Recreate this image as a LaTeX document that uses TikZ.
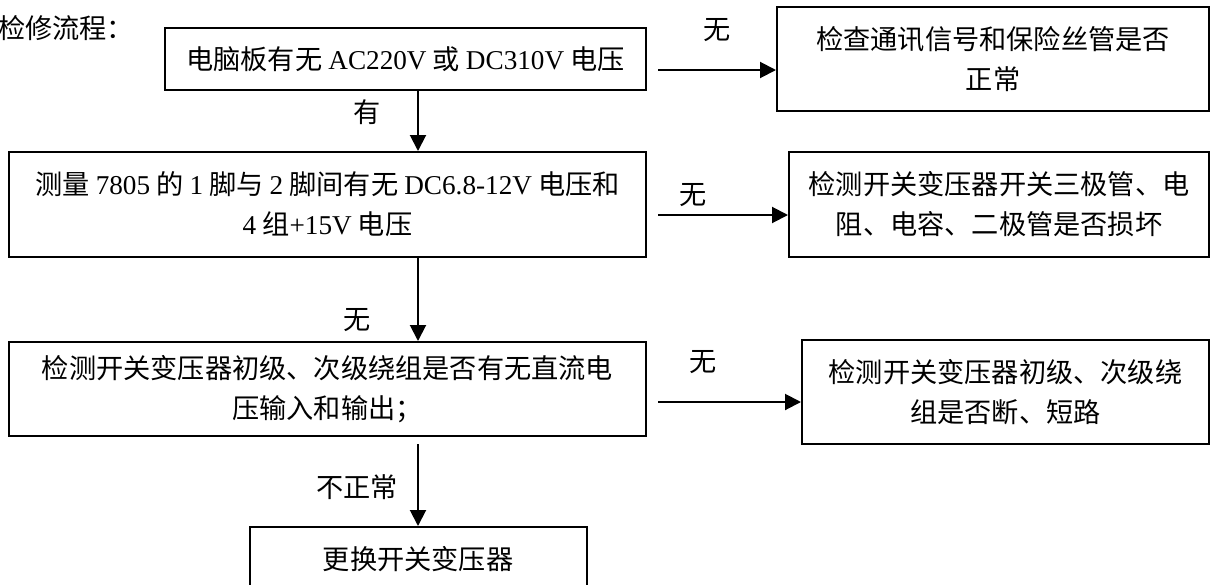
\documentclass[tikz,border=0pt]{standalone}
\usepackage{fontspec}
\usepackage{tikz}
\usetikzlibrary{arrows.meta}
\setmainfont{Noto Sans CJK SC}
\newfontfamily\latfont{Liberation Serif}
\newcommand{\en}[1]{{\latfont #1}}

\begin{document}
\begin{tikzpicture}[x=0.5pt, y=-0.5pt, font=\fontsize{13.6}{20}\selectfont,
                    box/.style 2 args={draw, line width=1pt, align=center, inner sep=0pt,
                                       minimum width=#1*0.5pt, minimum height=#2*0.5pt},
                    arr/.style={line width=1pt, arrows = {-Triangle[length=8pt, width=8pt]}}]
                    \useasboundingbox (0,0) rectangle (1216,584);
%                    title
                    \node[anchor=west] (title) at (-9,28) {检修流程：};

%                    main column
                    \node[box={481}{62}]  (b1) at (405.5,59)  {电脑板有无 \en{AC220V} 或 \en{DC310V} 电压};
                    \node[box={637}{105}] (b2) at (327.5,204.5) {测量 \en{7805} 的 \en{1} 脚与 \en{2} 脚间有无 \en{DC6.8-12V} 电压和\\ \en{4} 组\en{+15V} 电压};
                    \node[box={637}{94}]  (b3) at (327.5,389) {检测开关变压器初级、次级绕组是否有无直流电\\压输入和输出；};
                    \node[box={337}{64}]  (b4) at (418,559)   {更换开关变压器};

%                    right column
                    \node[box={432}{104}] (r1) at (993,59)    {检查通讯信号和保险丝管是否\\正常};
                    \node[box={420}{105}] (r2) at (999,204.5) {检测开关变压器开关三极管、电\\阻、电容、二极管是否损坏};
                    \node[box={407}{104}] (r3) at (1005.5,392) {检测开关变压器初级、次级绕\\组是否断、短路};

%                    down arrows
                    \coordinate (vx) at (418,0);
                    \coordinate (s4) at (418,444);
                    \draw[arr] (b1.south -| vx) -- (b2.north -| vx);
                    \draw[arr] (b2.south -| vx) -- (b3.north -| vx);
                    \draw[arr] (s4) -- (b4.north);
                    \node (yes1) at (367,112) {有};
                    \node (no2)  at (357,320) {无};
                    \node (bad)  at (357,487) {不正常};

%                    right arrows
                    \foreach \i/\y/\lx/\ly in {1/70/717/30, 2/215/693/195, 3/402/703/362} {
                        \coordinate (a\i) at (658,\y);
                        \draw[arr] (a\i) -- (a\i -| r\i.west);
                        \node (n\i) at (\lx,\ly) {无};
                    }
\end{tikzpicture}
\end{document}
